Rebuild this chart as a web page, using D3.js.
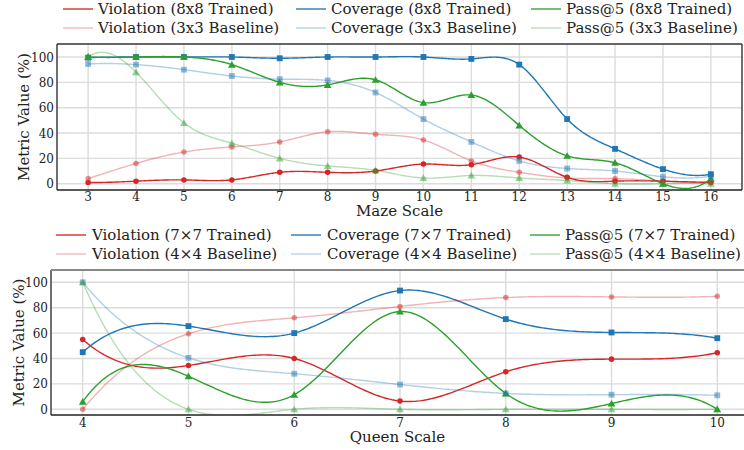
<!DOCTYPE html>
<html><head><meta charset="utf-8">
<script src="https://cdn.jsdelivr.net/npm/d3@7"></script>
<style>body{margin:0;background:#fff}svg{display:block}text{fill:#222}</style>
</head><body><svg id="c" width="744" height="450"></svg>
<script>
// ---------- data ----------
const mazeScales = [3,4,5,6,7,8,9,10,11,12,13,14,15,16];
const mazeViolationTrained = [1,2,3,3,9,9,10,15.5,15,21,5,2,2,1];
const mazeCoverageTrained  = [99.5,100,100,100,99,100,100,100,98.5,94,51,27.5,11.5,7.5];
const mazePassTrained      = [100,100,100,94,80,78,82,64,70,46,22,16.5,0,4];
const mazeViolationBase    = [4,16,25,29,33,41,39,34.5,18,9,4.5,4,2,1];
const mazeCoverageBase     = [94.5,94,90,85,82.5,81.5,72,51,33,18,12,10,5.5,6];
const mazePassBase         = [100,88,48,32,20,14,10.5,4.5,6.5,4.5,2.5,0,0,0];
const mazeLabels = ["Violation (8x8 Trained)","Coverage (8x8 Trained)","Pass@5 (8x8 Trained)",
                    "Violation (3x3 Baseline)","Coverage (3x3 Baseline)","Pass@5 (3x3 Baseline)"];

const queenScales = [4,5,6,7,8,9,10];
const queenViolationTrained = [55,34.5,40,6.5,29.5,39.5,44.5];
const queenCoverageTrained  = [45,65.5,60,93.5,71,60.5,56];
const queenPassTrained      = [6,26,11.5,77,12.5,4.5,0];
const queenViolationBase    = [0,59.5,72,81,88,88.5,89];
const queenCoverageBase     = [100,40.5,28,19.5,12.5,11.5,11];
const queenPassBase         = [100,0,0,0,0,0,0];
const queenLabels = ["Violation (7\u00d77 Trained)","Coverage (7\u00d77 Trained)","Pass@5 (7\u00d77 Trained)",
                     "Violation (4\u00d74 Baseline)","Coverage (4\u00d74 Baseline)","Pass@5 (4\u00d74 Baseline)"];
const yTicks = [0,20,40,60,80,100];

// ---------- helpers ----------
const RED="#d62728", BLUE="#1f77b4", GREEN="#2ca02c";
const svg = d3.select("#c");

function hasFont(name){
  const t=svg.append("text").attr("font-size",40).style("font-family",`'${name}',monospace`).text("Metric Value (%) 100");
  const w1=t.node().getComputedTextLength();
  t.style("font-family","monospace");const w2=t.node().getComputedTextLength();t.remove();
  return Math.abs(w1-w2)>1;
}
const dvs=hasFont("DejaVu Serif");
const FONT=dvs?"'DejaVu Serif', serif":"'Liberation Serif', serif";
const FS=dvs?{leg:15,tick:12,lab:15}:{leg:18.5,tick:13,lab:18.5};

function solve(A,b){const n=b.length;A=A.map(r=>r.slice());b=b.slice();
  for(let i=0;i<n;i++){let p=i;for(let r=i+1;r<n;r++)if(Math.abs(A[r][i])>Math.abs(A[p][i]))p=r;
    [A[i],A[p]]=[A[p],A[i]];[b[i],b[p]]=[b[p],b[i]];
    for(let r=i+1;r<n;r++){const f=A[r][i]/A[i][i];for(let c=i;c<n;c++)A[r][c]-=f*A[i][c];b[r]-=f*b[i];}}
  const x=new Array(n).fill(0);
  for(let i=n-1;i>=0;i--){let s=b[i];for(let c=i+1;c<n;c++)s-=A[i][c]*x[c];x[i]=s/A[i][i];}return x;}
// not-a-knot cubic spline sampled densely
function spline(xs,ys,steps){
  const n=xs.length,h=[];for(let i=0;i<n-1;i++)h.push(xs[i+1]-xs[i]);
  const A=[],b=[];for(let i=0;i<n;i++){A.push(new Array(n).fill(0));b.push(0);}
  A[0][0]=h[1];A[0][1]=-(h[0]+h[1]);A[0][2]=h[0];
  for(let i=1;i<n-1;i++){A[i][i-1]=h[i-1];A[i][i]=2*(h[i-1]+h[i]);A[i][i+1]=h[i];
    b[i]=6*((ys[i+1]-ys[i])/h[i]-(ys[i]-ys[i-1])/h[i-1]);}
  const k=n-1;A[k][k-2]=h[k-1];A[k][k-1]=-(h[k-2]+h[k-1]);A[k][k]=h[k-2];
  const M=solve(A,b);const out=[];
  for(let i=0;i<n-1;i++){for(let s=0;s<steps;s++){const x=xs[i]+h[i]*s/steps;
      const a=xs[i+1]-x,c=x-xs[i];
      const y=M[i]*a*a*a/(6*h[i])+M[i+1]*c*c*c/(6*h[i])+(ys[i]-M[i]*h[i]*h[i]/6)*a/h[i]+(ys[i+1]-M[i+1]*h[i]*h[i]/6)*c/h[i];
      out.push([x,y]);}}
  out.push([xs[n-1],ys[n-1]]);return out;}

function panel(cfg){
  const {id,xs,series,labels,L,R,T,B,xDom,y0,y100,xLabel,legY,xLabelY,yLabelX,full,tickDy}=cfg;
  const x=d3.scaleLinear().domain(xDom).range([L,R]);
  const y=d3.scaleLinear().domain([0,100]).range([y0,y100]);
  const g=svg.append("g").style("font-family",FONT);
  g.append("clipPath").attr("id",id).append("rect").attr("x",L).attr("y",T).attr("width",R-L).attr("height",B-T);
  // grid
  g.append("g").selectAll("line").data(xs).join("line")
    .attr("x1",d=>x(d)).attr("x2",d=>x(d)).attr("y1",T).attr("y2",B)
    .attr("stroke","#dcdcdc").attr("stroke-width",1.4);
  g.append("g").selectAll("line").data(yTicks).join("line")
    .attr("x1",L).attr("x2",R).attr("y1",d=>y(d)).attr("y2",d=>y(d))
    .attr("stroke","#dcdcdc").attr("stroke-width",1.4);
  // series
  const line=d3.line().x(d=>x(d[0])).y(d=>y(d[1]));
  const plot=g.append("g").attr("clip-path",`url(#${id})`);
  series.forEach(s=>{
    const pts=spline(xs,s.v,40);
    plot.append("path").attr("d",line(pts)).attr("fill","none").attr("stroke",s.c)
      .attr("stroke-width",1.4).attr("stroke-opacity",s.base?0.35:1);
    const m=plot.append("g").attr("fill",s.c).attr("fill-opacity",s.base?0.5:1);
    const sym=d3.symbol().type(s.m).size(s.m===d3.symbolTriangle?26:(s.m===d3.symbolSquare?34:24));
    m.selectAll("path").data(xs.map((xx,i)=>[xx,s.v[i]])).join("path")
      .attr("transform",d=>`translate(${x(d[0])},${y(d[1])+(s.m===d3.symbolTriangle?0.8:0)})`).attr("d",sym());
  });
  // spines
  g.append("line").attr("x1",L).attr("x2",L).attr("y1",T).attr("y2",B).attr("stroke","#333").attr("stroke-width",1.4);
  g.append("line").attr("x1",L).attr("x2",R).attr("y1",B).attr("y2",B).attr("stroke","#222").attr("stroke-width",1.4);
  g.append("line").attr("x1",L).attr("x2",R).attr("y1",T).attr("y2",T).attr("stroke",full?"#333":"#888").attr("stroke-width",full?1.4:2);
  if(full) g.append("line").attr("x1",R).attr("x2",R).attr("y1",T).attr("y2",B).attr("stroke","#333").attr("stroke-width",1.4);
  // tick labels
  g.append("g").selectAll("text").data(xs).join("text").attr("x",d=>x(d)).attr("y",B+tickDy)
    .attr("text-anchor","middle").attr("font-size",FS.tick).text(d=>d);
  g.append("g").selectAll("text").data(yTicks).join("text").attr("x",L-3).attr("y",d=>y(d)+4.5)
    .attr("text-anchor","end").attr("font-size",FS.tick).text(d=>d);
  g.append("text").attr("x",(L+Math.min(R,744))/2).attr("y",xLabelY).attr("text-anchor","middle").attr("font-size",FS.lab).text(xLabel);
  g.append("text").attr("transform",`translate(${yLabelX},${(T+B)/2}) rotate(-90)`).attr("text-anchor","middle").attr("font-size",FS.lab).text("Metric Value (%)");
  // legend
  const colX=cfg.legX;
  const order=[0,3,1,4,2,5];
  order.forEach((si,k)=>{
    const col=Math.floor(k/2),row=k%2,s=series[si];
    const ly=legY[row];
    g.append("line").attr("x1",colX[col][0]).attr("x2",colX[col][0]+30).attr("y1",ly).attr("y2",ly)
      .attr("stroke",s.c).attr("stroke-width",1.8).attr("stroke-opacity",s.base?0.25:0.75);
    g.append("text").attr("x",colX[col][1]).attr("y",ly+5).attr("font-size",FS.leg).text(labels[si]);
  });
}

panel({id:"c1",xs:mazeScales,labels:mazeLabels,L:57,R:742,T:44,B:190,xDom:[2.35,16.65],y0:183.7,y100:57,
  xLabel:"Maze Scale",xLabelY:216,yLabelX:29,full:true,legY:[9,28],tickDy:10.5,
  legX:[[63,98],[296,331],[531,566]],
  series:[
    {v:mazeViolationTrained,c:RED,m:d3.symbolCircle},
    {v:mazeCoverageTrained,c:BLUE,m:d3.symbolSquare},
    {v:mazePassTrained,c:GREEN,m:d3.symbolTriangle},
    {v:mazeViolationBase,c:RED,m:d3.symbolCircle,base:true},
    {v:mazeCoverageBase,c:BLUE,m:d3.symbolSquare,base:true},
    {v:mazePassBase,c:GREEN,m:d3.symbolTriangle,base:true}]});

panel({id:"c2",xs:queenScales,labels:queenLabels,L:51,R:749,T:270,B:415,xDom:[3.7,10.3],y0:409.3,y100:282.3,
  xLabel:"Queen Scale",xLabelY:442,yLabelX:24,full:false,legY:[235,254],tickDy:11.5,
  legX:[[56,92],[291,327],[530,565]],
  series:[
    {v:queenViolationTrained,c:RED,m:d3.symbolCircle},
    {v:queenCoverageTrained,c:BLUE,m:d3.symbolSquare},
    {v:queenPassTrained,c:GREEN,m:d3.symbolTriangle},
    {v:queenViolationBase,c:RED,m:d3.symbolCircle,base:true},
    {v:queenCoverageBase,c:BLUE,m:d3.symbolSquare,base:true},
    {v:queenPassBase,c:GREEN,m:d3.symbolTriangle,base:true}]});
</script></body></html>
